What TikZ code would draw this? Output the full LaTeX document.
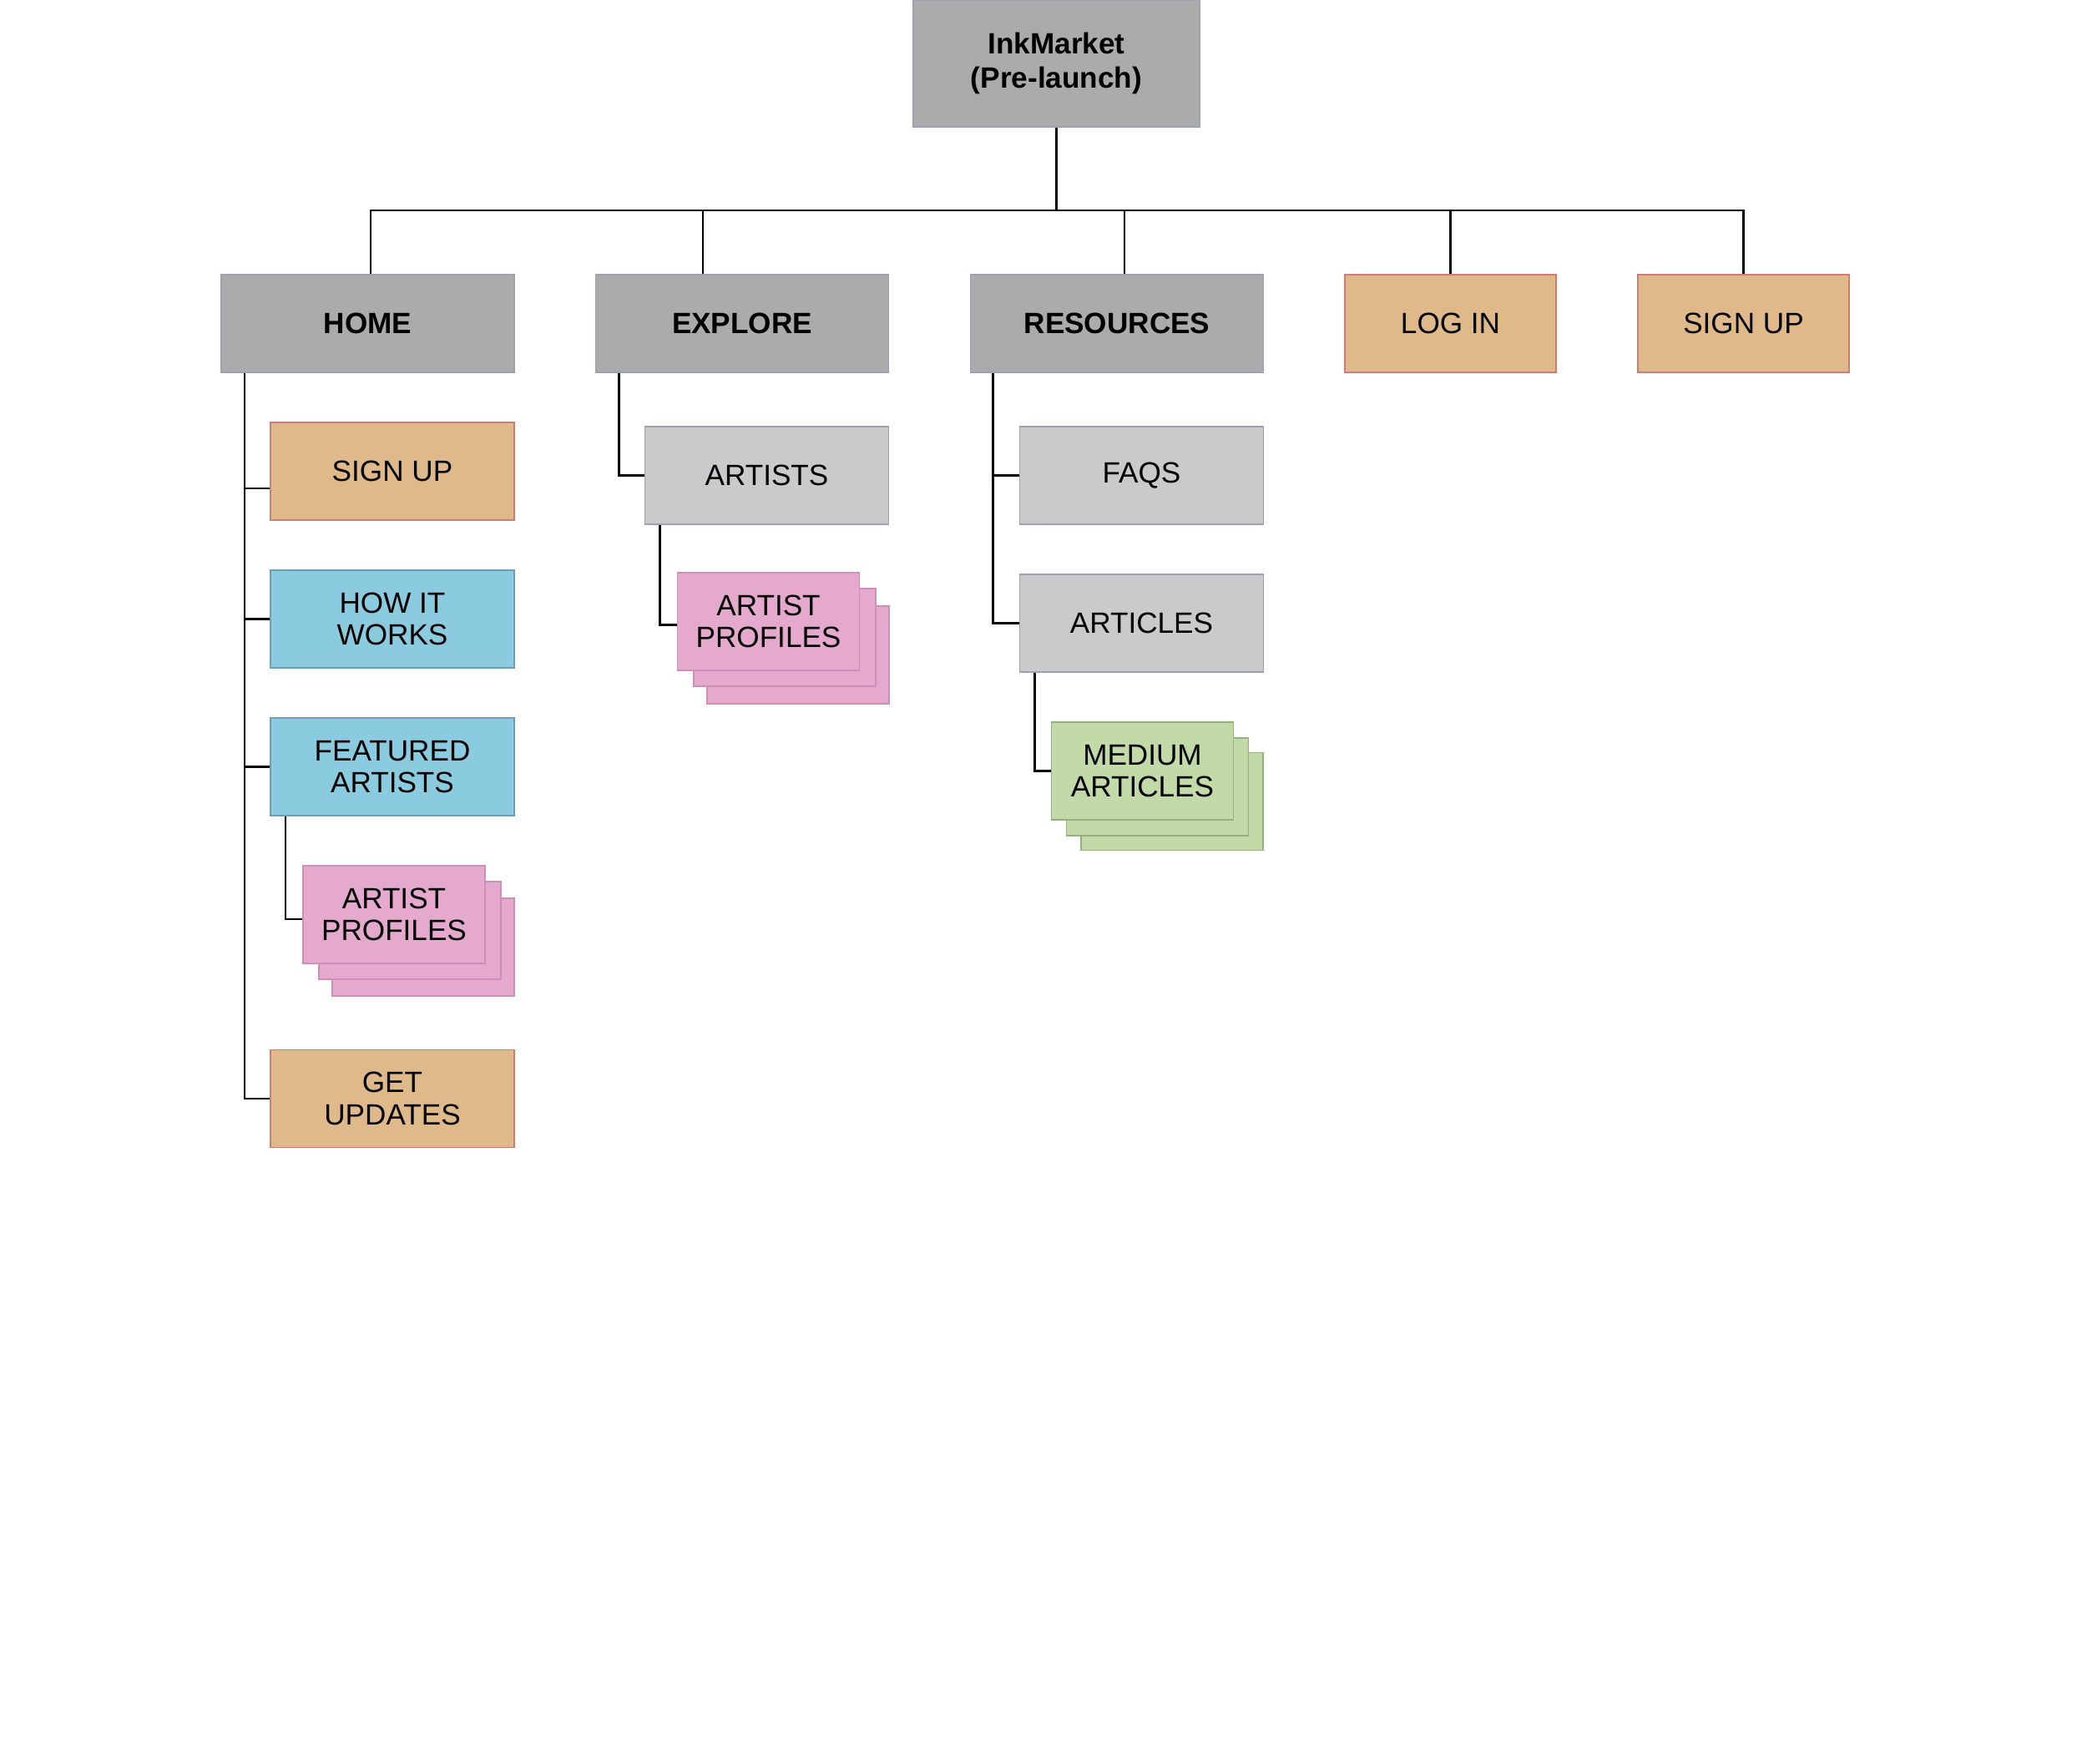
\documentclass[tikz,border=0pt]{standalone}
\usepackage{fontspec}
\setmainfont{Liberation Sans}
\usepackage{tikz}
\usetikzlibrary{shapes,arrows,positioning,calc}
\usepackage{xcolor}
\definecolor{darkgrey}{HTML}{ABABAB}
\definecolor{lightgrey}{HTML}{CACACD}
\definecolor{greyline}{HTML}{9EA0B2}
\definecolor{orangefill}{HTML}{E0B98A}
\definecolor{orangeline}{HTML}{CF7C72}
\definecolor{bluefill}{HTML}{8BCBDF}
\definecolor{blueline}{HTML}{6D9DB8}
\definecolor{pinkfill}{HTML}{E5A9CD}
\definecolor{pinkline}{HTML}{CC8FB8}
\definecolor{greenfill}{HTML}{C2D9A8}
\definecolor{greenline}{HTML}{95B07F}
\tikzstyle{rootbox} = [rectangle, minimum width=3.43cm, minimum height=1.52cm, inner sep=0pt, align=center, draw=greyline, fill=darkgrey, font=\bfseries\fontsize{10}{11.7}\selectfont]
\tikzstyle{section} = [rectangle, minimum width=3.51cm, minimum height=1.17cm, inner sep=0pt, align=center, draw=greyline, fill=darkgrey, font=\bfseries\fontsize{10}{11}\selectfont]
\tikzstyle{action} = [rectangle, minimum width=2.92cm, minimum height=1.17cm, inner sep=0pt, align=center, draw=orangeline, fill=orangefill]
\tikzstyle{info} = [rectangle, minimum width=2.92cm, minimum height=1.17cm, inner sep=0pt, align=center, draw=blueline, fill=bluefill]
\tikzstyle{subpage} = [rectangle, minimum width=2.92cm, minimum height=1.17cm, inner sep=0pt, align=center, draw=greyline, fill=lightgrey]
\tikzstyle{profile} = [rectangle, minimum width=2.18cm, minimum height=1.17cm, inner sep=0pt, align=center, draw=pinkline, fill=pinkfill]
\tikzstyle{medium} = [rectangle, minimum width=2.18cm, minimum height=1.17cm, inner sep=0pt, align=center, draw=greenline, fill=greenfill]
\tikzstyle{link} = [black, line width=0.7pt]

\begin{document}
\begin{tikzpicture}[node distance=1.77cm, line width=0.5pt, font=\fontsize{10}{11}\selectfont]
    \useasboundingbox (0,0) rectangle (25,-21.12);
    % Nodes
    \node (root) [rootbox] at (12.655,-0.76) {InkMarket\\(Pre-launch)};
    \node (home) [section, below of=root, xshift=-8.25cm, yshift=-1.345cm] {HOME};
    \node (explore) [section, right of=home, xshift=2.715cm] {EXPLORE};
    \node (resources) [section, right of=explore, xshift=2.72cm] {RESOURCES};
    \node (login) [action, minimum width=2.53cm, right of=resources, xshift=2.225cm] {LOG IN};
    \node (signup) [action, minimum width=2.53cm, right of=login, xshift=1.74cm] {SIGN UP};

    % Home pages
    \node (hsignup) [action, below of=home, xshift=0.295cm] {SIGN UP};
    \node (howit) [info, below of=hsignup] {HOW IT\\WORKS};
    \node (featured) [info, below of=howit] {FEATURED\\ARTISTS};
    \node (hprof3) [profile, below of=featured, xshift=0.37cm, yshift=-0.39cm] {};
    \node (hprof2) [profile, below of=featured, xshift=0.21cm, yshift=-0.19cm] {};
    \node (hprof) [profile, below of=featured, xshift=0.02cm] {ARTIST\\PROFILES};
    \node (updates) [action, below of=hprof, xshift=-0.02cm, yshift=-0.435cm] {GET\\UPDATES};

    % Explore pages
    \node (artists) [subpage, below of=explore, xshift=0.295cm, yshift=-0.05cm] {ARTISTS};
    \node (eprof3) [profile, below of=artists, xshift=0.375cm, yshift=-0.38cm] {};
    \node (eprof2) [profile, below of=artists, xshift=0.215cm, yshift=-0.17cm] {};
    \node (eprof) [profile, below of=artists, xshift=0.02cm, yshift=0.02cm] {ARTIST\\PROFILES};

    % Resources pages
    \node (faqs) [subpage, below of=resources, xshift=0.295cm, yshift=-0.05cm] {FAQS};
    \node (articles) [subpage, below of=faqs] {ARTICLES};
    \node (mart3) [medium, below of=articles, xshift=0.365cm, yshift=-0.365cm] {};
    \node (mart2) [medium, below of=articles, xshift=0.19cm, yshift=-0.19cm] {};
    \node (mart) [medium, below of=articles, xshift=0.01cm] {MEDIUM\\ARTICLES};

    % Lines
    \draw [link] (root.south) -- ++(0,-0.99) coordinate (bus);
    \draw [link] (bus) -| ([xshift=0.035cm]home.north);
    \draw [link] (bus) -| ([xshift=-0.47cm]explore.north);
    \draw [link] (bus) -| ([xshift=0.09cm]resources.north);
    \draw [link] (bus) -| (login.north);
    \draw [link] (bus) -| (signup.north);

    \draw [link] ([xshift=0.29cm]home.south west) |- ([yshift=-0.205cm]hsignup.west);
    \draw [link] ([xshift=0.29cm]home.south west) |- (howit.west);
    \draw [link] ([xshift=0.29cm]home.south west) |- (featured.west);
    \draw [link] ([xshift=0.29cm]home.south west) |- (updates.west);
    \draw [link] ([xshift=0.19cm]featured.south west) |- ([yshift=-0.055cm]hprof.west);

    \draw [link] ([xshift=0.29cm]explore.south west) |- (artists.west);
    \draw [link] ([xshift=0.19cm]artists.south west) |- ([yshift=-0.04cm]eprof.west);

    \draw [link] ([xshift=0.28cm]resources.south west) |- (faqs.west);
    \draw [link] ([xshift=0.28cm]resources.south west) |- (articles.west);
    \draw [link] ([xshift=0.19cm]articles.south west) |- (mart.west);
\end{tikzpicture}
\end{document}
